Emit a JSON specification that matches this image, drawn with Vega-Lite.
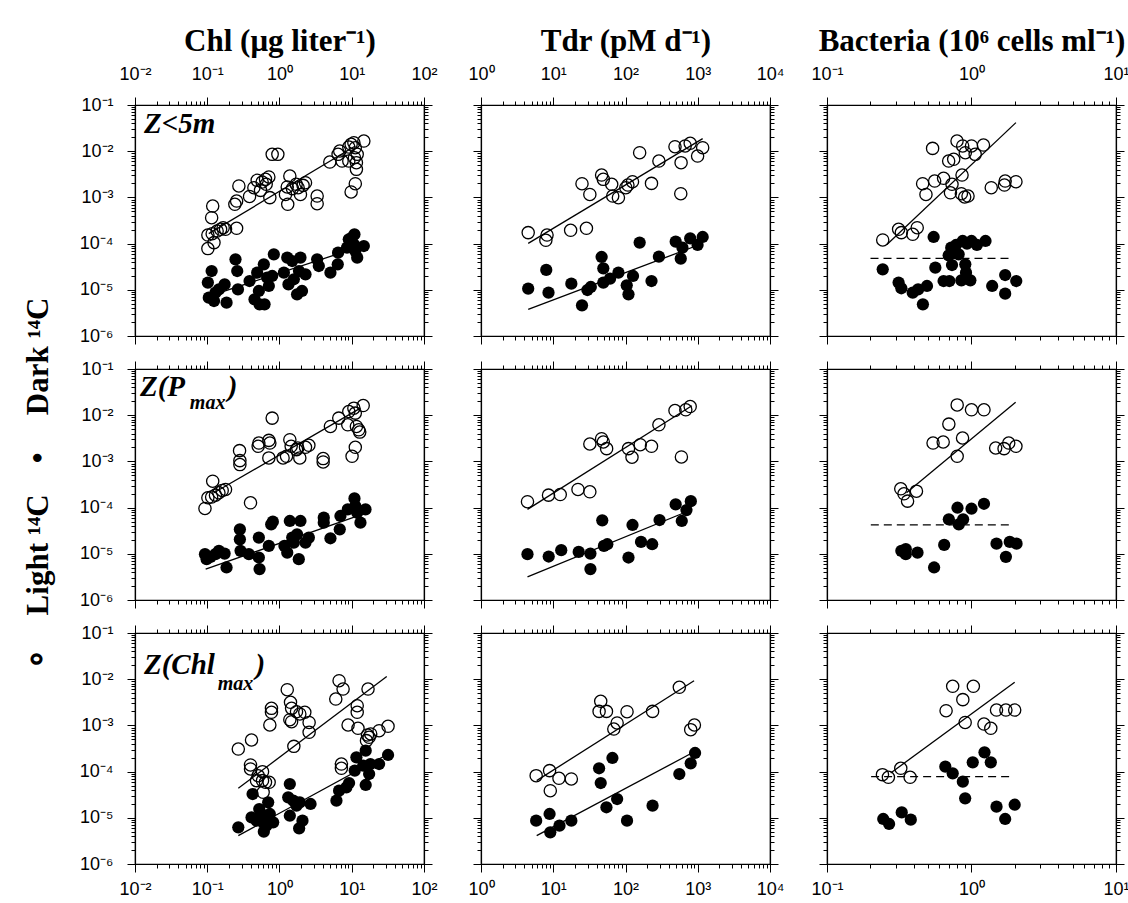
{
"$schema":"https://vega.github.io/schema/vega-lite/v6.json",
"background":"white",
"padding":{"left":21,"top":24,"right":5,"bottom":5},
"datasets":{
"pts":[
{"p":"11","t":"L","x":0.102,"y":7.8e-5},{"p":"11","t":"L","x":0.102,"y":1.53e-4},{"p":"11","t":"L","x":0.117,"y":1.64e-4},{"p":"11","t":"L","x":0.124,"y":1.05e-4},{"p":"11","t":"L","x":0.137,"y":1.87e-4},{"p":"11","t":"L","x":0.153,"y":2.04e-4},{"p":"11","t":"L","x":0.166,"y":2.21e-4},{"p":"11","t":"L","x":0.179,"y":2.04e-4},{"p":"11","t":"L","x":0.255,"y":2.14e-4},{"p":"11","t":"L","x":0.119,"y":6.5e-4},{"p":"11","t":"L","x":0.115,"y":3.64e-4},{"p":"11","t":"L","x":0.241,"y":7.08e-4},{"p":"11","t":"L","x":0.255,"y":8.35e-4},{"p":"11","t":"L","x":0.274,"y":1.77e-3},{"p":"11","t":"L","x":0.385,"y":1.05e-3},{"p":"11","t":"L","x":0.442,"y":1.62e-3},{"p":"11","t":"L","x":0.491,"y":2.34e-3},{"p":"11","t":"L","x":0.546,"y":1.42e-3},{"p":"11","t":"L","x":0.575,"y":2.15e-3},{"p":"11","t":"L","x":0.64,"y":2.46e-3},{"p":"11","t":"L","x":0.712,"y":2.77e-3},{"p":"11","t":"L","x":0.735,"y":9.9e-4},{"p":"11","t":"L","x":0.654,"y":1.92e-3},{"p":"11","t":"L","x":0.792,"y":8.55e-3},{"p":"11","t":"L","x":0.949,"y":8.55e-3},{"p":"11","t":"L","x":1.21,"y":1.16e-3},{"p":"11","t":"L","x":1.28,"y":1.68e-3},{"p":"11","t":"L","x":1.3,"y":7.08e-4},{"p":"11","t":"L","x":1.39,"y":2.9e-3},{"p":"11","t":"L","x":1.51,"y":1.55e-3},{"p":"11","t":"L","x":1.7,"y":1.92e-3},{"p":"11","t":"L","x":1.81,"y":1.62e-3},{"p":"11","t":"L","x":1.95,"y":1.16e-3},{"p":"11","t":"L","x":2.12,"y":1.82e-3},{"p":"11","t":"L","x":2.29,"y":2.08e-3},{"p":"11","t":"L","x":3.32,"y":1.07e-3},{"p":"11","t":"L","x":3.32,"y":7.3e-4},{"p":"11","t":"L","x":4.97,"y":5.83e-3},{"p":"11","t":"L","x":6.47,"y":8.55e-3},{"p":"11","t":"L","x":6.82,"y":1.01e-2},{"p":"11","t":"L","x":7.35,"y":6.13e-3},{"p":"11","t":"L","x":9.1,"y":1.23e-2},{"p":"11","t":"L","x":9.8,"y":1.41e-2},{"p":"11","t":"L","x":10.7,"y":1.53e-2},{"p":"11","t":"L","x":11.2,"y":1.19e-2},{"p":"11","t":"L","x":11.9,"y":8.55e-3},{"p":"11","t":"L","x":10.9,"y":7.24e-3},{"p":"11","t":"L","x":11.6,"y":5.65e-3},{"p":"11","t":"L","x":11.6,"y":4.05e-3},{"p":"11","t":"L","x":11.2,"y":1.98e-3},{"p":"11","t":"L","x":9.8,"y":1.31e-3},{"p":"11","t":"L","x":9.1,"y":6.13e-3},{"p":"11","t":"L","x":14.7,"y":1.66e-2},
{"p":"11","t":"D","x":0.102,"y":1.43e-5},{"p":"11","t":"D","x":0.115,"y":2.55e-5},{"p":"11","t":"D","x":0.105,"y":6.76e-6},{"p":"11","t":"D","x":0.124,"y":5.72e-6},{"p":"11","t":"D","x":0.13,"y":8.67e-6},{"p":"11","t":"D","x":0.145,"y":1.02e-5},{"p":"11","t":"D","x":0.174,"y":1.31e-5},{"p":"11","t":"D","x":0.185,"y":5.27e-6},{"p":"11","t":"D","x":0.246,"y":4.56e-5},{"p":"11","t":"D","x":0.26,"y":2.55e-5},{"p":"11","t":"D","x":0.266,"y":1.02e-5},{"p":"11","t":"D","x":0.385,"y":1.55e-5},{"p":"11","t":"D","x":0.451,"y":6.22e-6},{"p":"11","t":"D","x":0.491,"y":2.35e-5},{"p":"11","t":"D","x":0.518,"y":9.42e-6},{"p":"11","t":"D","x":0.53,"y":4.85e-6},{"p":"11","t":"D","x":0.621,"y":4.85e-6},{"p":"11","t":"D","x":0.607,"y":3.56e-5},{"p":"11","t":"D","x":0.675,"y":1.83e-5},{"p":"11","t":"D","x":0.712,"y":1.21e-5},{"p":"11","t":"D","x":0.792,"y":1.99e-5},{"p":"11","t":"D","x":0.835,"y":5.86e-5},{"p":"11","t":"D","x":1.15,"y":2.35e-5},{"p":"11","t":"D","x":1.28,"y":4.97e-5},{"p":"11","t":"D","x":1.33,"y":1.31e-5},{"p":"11","t":"D","x":1.5,"y":4.2e-5},{"p":"11","t":"D","x":1.58,"y":1.69e-5},{"p":"11","t":"D","x":1.75,"y":7.97e-6},{"p":"11","t":"D","x":1.86,"y":2.55e-5},{"p":"11","t":"D","x":1.95,"y":4.97e-5},{"p":"11","t":"D","x":2.05,"y":9.42e-6},{"p":"11","t":"D","x":2.29,"y":2.16e-5},{"p":"11","t":"D","x":3.32,"y":4.56e-5},{"p":"11","t":"D","x":3.5,"y":3.27e-5},{"p":"11","t":"D","x":5.07,"y":2.35e-5},{"p":"11","t":"D","x":6.47,"y":6.37e-5},{"p":"11","t":"D","x":6.4,"y":3.56e-5},{"p":"11","t":"D","x":9.1,"y":1.24e-4},{"p":"11","t":"D","x":10.0,"y":1.34e-4},{"p":"11","t":"D","x":10.9,"y":1.59e-4},{"p":"11","t":"D","x":10.7,"y":9.6e-5},{"p":"11","t":"D","x":11.2,"y":6.9e-5},{"p":"11","t":"D","x":11.9,"y":4.97e-5},{"p":"11","t":"D","x":14.7,"y":8.87e-5},{"p":"11","t":"D","x":8.6,"y":8.17e-5},
{"p":"12","t":"L","x":4.5,"y":1.73e-4},{"p":"12","t":"L","x":8.2,"y":1.53e-4},{"p":"12","t":"L","x":7.9,"y":1.18e-4},{"p":"12","t":"L","x":17.4,"y":1.94e-4},{"p":"12","t":"L","x":28.8,"y":2.14e-4},{"p":"12","t":"L","x":25.0,"y":1.98e-3},{"p":"12","t":"L","x":32.1,"y":1.16e-3},{"p":"12","t":"L","x":46.7,"y":3.05e-3},{"p":"12","t":"L","x":49.3,"y":2.46e-3},{"p":"12","t":"L","x":64.4,"y":1.92e-3},{"p":"12","t":"L","x":66.5,"y":1.07e-3},{"p":"12","t":"L","x":79.8,"y":9.86e-4},{"p":"12","t":"L","x":101,"y":1.62e-3},{"p":"12","t":"L","x":108,"y":1.85e-3},{"p":"12","t":"L","x":125,"y":2.19e-3},{"p":"12","t":"L","x":157,"y":9.29e-3},{"p":"12","t":"L","x":229,"y":2.01e-3},{"p":"12","t":"L","x":290,"y":6.13e-3},{"p":"12","t":"L","x":484,"y":1.25e-2},{"p":"12","t":"L","x":588,"y":5.65e-3},{"p":"12","t":"L","x":582,"y":1.2e-3},{"p":"12","t":"L","x":669,"y":1.3e-2},{"p":"12","t":"L","x":786,"y":1.48e-2},{"p":"12","t":"L","x":995,"y":7.87e-3},{"p":"12","t":"L","x":1170,"y":1.19e-2},
{"p":"12","t":"D","x":4.5,"y":1.06e-5},{"p":"12","t":"D","x":8.0,"y":2.69e-5},{"p":"12","t":"D","x":8.6,"y":8.67e-6},{"p":"12","t":"D","x":17.8,"y":1.36e-5},{"p":"12","t":"D","x":25.0,"y":4.61e-6},{"p":"12","t":"D","x":29.7,"y":9.9e-6},{"p":"12","t":"D","x":33.1,"y":1.15e-5},{"p":"12","t":"D","x":46.7,"y":5.13e-5},{"p":"12","t":"D","x":49.3,"y":2.92e-5},{"p":"12","t":"D","x":49.3,"y":1.43e-5},{"p":"12","t":"D","x":61.1,"y":1.74e-5},{"p":"12","t":"D","x":79.8,"y":2.35e-5},{"p":"12","t":"D","x":104,"y":1.25e-5},{"p":"12","t":"D","x":110,"y":7.97e-6},{"p":"12","t":"D","x":127,"y":1.99e-5},{"p":"12","t":"D","x":157,"y":1.05e-4},{"p":"12","t":"D","x":229,"y":1.55e-5},{"p":"12","t":"D","x":290,"y":5.21e-5},{"p":"12","t":"D","x":495,"y":1.1e-4},{"p":"12","t":"D","x":582,"y":4.72e-5},{"p":"12","t":"D","x":614,"y":8.17e-5},{"p":"12","t":"D","x":786,"y":1.3e-4},{"p":"12","t":"D","x":995,"y":9.33e-5},{"p":"12","t":"D","x":1170,"y":1.39e-4},
{"p":"13","t":"L","x":0.243,"y":1.2e-4},{"p":"13","t":"L","x":0.313,"y":2.04e-4},{"p":"13","t":"L","x":0.327,"y":1.73e-4},{"p":"13","t":"L","x":0.392,"y":1.59e-4},{"p":"13","t":"L","x":0.421,"y":2.21e-4},{"p":"13","t":"L","x":0.459,"y":1.98e-3},{"p":"13","t":"L","x":0.484,"y":1.16e-3},{"p":"13","t":"L","x":0.538,"y":1.15e-2},{"p":"13","t":"L","x":0.556,"y":2.26e-3},{"p":"13","t":"L","x":0.641,"y":2.59e-3},{"p":"13","t":"L","x":0.695,"y":6.13e-3},{"p":"13","t":"L","x":0.753,"y":6.67e-3},{"p":"13","t":"L","x":0.715,"y":1.26e-3},{"p":"13","t":"L","x":0.733,"y":1.92e-3},{"p":"13","t":"L","x":0.794,"y":1.66e-2},{"p":"13","t":"L","x":0.86,"y":3.05e-3},{"p":"13","t":"L","x":0.851,"y":1.2e-3},{"p":"13","t":"L","x":0.897,"y":1.02e-3},{"p":"13","t":"L","x":0.946,"y":1.07e-3},{"p":"13","t":"L","x":0.869,"y":1.3e-2},{"p":"13","t":"L","x":0.906,"y":9.29e-3},{"p":"13","t":"L","x":1.0,"y":1.3e-2},{"p":"13","t":"L","x":1.06,"y":8.55e-3},{"p":"13","t":"L","x":1.21,"y":1.36e-2},{"p":"13","t":"L","x":1.37,"y":1.62e-3},{"p":"13","t":"L","x":1.69,"y":1.85e-3},{"p":"13","t":"L","x":1.71,"y":2.26e-3},{"p":"13","t":"L","x":2.03,"y":2.19e-3},
{"p":"13","t":"D","x":0.243,"y":2.77e-5},{"p":"13","t":"D","x":0.313,"y":1.43e-5},{"p":"13","t":"D","x":0.327,"y":1.08e-5},{"p":"13","t":"D","x":0.392,"y":8.67e-6},{"p":"13","t":"D","x":0.427,"y":1.02e-5},{"p":"13","t":"D","x":0.492,"y":1.21e-5},{"p":"13","t":"D","x":0.461,"y":4.85e-6},{"p":"13","t":"D","x":0.547,"y":1.39e-4},{"p":"13","t":"D","x":0.562,"y":3.01e-5},{"p":"13","t":"D","x":0.641,"y":1.55e-5},{"p":"13","t":"D","x":0.703,"y":1.55e-5},{"p":"13","t":"D","x":0.695,"y":5.57e-5},{"p":"13","t":"D","x":0.724,"y":8.17e-5},{"p":"13","t":"D","x":0.733,"y":3.44e-5},{"p":"13","t":"D","x":0.782,"y":9.33e-5},{"p":"13","t":"D","x":0.815,"y":5.86e-5},{"p":"13","t":"D","x":0.851,"y":1.6e-5},{"p":"13","t":"D","x":0.869,"y":1.14e-4},{"p":"13","t":"D","x":0.906,"y":3.56e-5},{"p":"13","t":"D","x":0.916,"y":2.35e-5},{"p":"13","t":"D","x":0.982,"y":1.6e-5},{"p":"13","t":"D","x":0.931,"y":9.97e-5},{"p":"13","t":"D","x":1.0,"y":1.14e-4},{"p":"13","t":"D","x":1.09,"y":9.33e-5},{"p":"13","t":"D","x":1.25,"y":1.14e-4},{"p":"13","t":"D","x":1.39,"y":1.21e-5},{"p":"13","t":"D","x":1.71,"y":2.09e-5},{"p":"13","t":"D","x":1.71,"y":8.24e-6},{"p":"13","t":"D","x":2.04,"y":1.55e-5},
{"p":"21","t":"L","x":0.093,"y":9.6e-5},{"p":"21","t":"L","x":0.102,"y":1.63e-4},{"p":"21","t":"L","x":0.115,"y":1.69e-4},{"p":"21","t":"L","x":0.119,"y":3.73e-4},{"p":"21","t":"L","x":0.13,"y":1.86e-4},{"p":"21","t":"L","x":0.145,"y":2.09e-4},{"p":"21","t":"L","x":0.161,"y":2.35e-4},{"p":"21","t":"L","x":0.179,"y":2.47e-4},{"p":"21","t":"L","x":0.28,"y":1.71e-3},{"p":"21","t":"L","x":0.283,"y":1.04e-3},{"p":"21","t":"L","x":0.283,"y":8.53e-4},{"p":"21","t":"L","x":0.397,"y":1.27e-4},{"p":"21","t":"L","x":0.507,"y":2.12e-3},{"p":"21","t":"L","x":0.518,"y":2.5e-3},{"p":"21","t":"L","x":0.712,"y":2.85e-3},{"p":"21","t":"L","x":0.735,"y":2.5e-3},{"p":"21","t":"L","x":0.712,"y":1.19e-3},{"p":"21","t":"L","x":0.792,"y":8.65e-3},{"p":"21","t":"L","x":1.12,"y":1.19e-3},{"p":"21","t":"L","x":1.25,"y":1.29e-3},{"p":"21","t":"L","x":1.39,"y":2.95e-3},{"p":"21","t":"L","x":1.45,"y":2.12e-3},{"p":"21","t":"L","x":1.72,"y":1.8e-3},{"p":"21","t":"L","x":1.79,"y":1.95e-3},{"p":"21","t":"L","x":1.91,"y":1.19e-3},{"p":"21","t":"L","x":2.29,"y":2.02e-3},{"p":"21","t":"L","x":2.55,"y":2.23e-3},{"p":"21","t":"L","x":4.02,"y":1.15e-3},{"p":"21","t":"L","x":4.02,"y":9.73e-4},{"p":"21","t":"L","x":5.07,"y":5.71e-3},{"p":"21","t":"L","x":6.61,"y":8.65e-3},{"p":"21","t":"L","x":8.81,"y":6.21e-3},{"p":"21","t":"L","x":9.1,"y":1.2e-2},{"p":"21","t":"L","x":10.7,"y":1.42e-2},{"p":"21","t":"L","x":11.2,"y":1.11e-2},{"p":"21","t":"L","x":11.6,"y":5.71e-3},{"p":"21","t":"L","x":12.5,"y":4.84e-3},{"p":"21","t":"L","x":12.9,"y":4.31e-3},{"p":"21","t":"L","x":11.2,"y":2.02e-3},{"p":"21","t":"L","x":10.1,"y":1.29e-3},{"p":"21","t":"L","x":14.4,"y":1.62e-2},
{"p":"21","t":"D","x":0.093,"y":9.8e-6},{"p":"21","t":"D","x":0.098,"y":7.66e-6},{"p":"21","t":"D","x":0.111,"y":8.6e-6},{"p":"21","t":"D","x":0.13,"y":9.8e-6},{"p":"21","t":"D","x":0.145,"y":1.16e-5},{"p":"21","t":"D","x":0.174,"y":1.01e-5},{"p":"21","t":"D","x":0.185,"y":5.06e-6},{"p":"21","t":"D","x":0.283,"y":3.39e-5},{"p":"21","t":"D","x":0.283,"y":2.06e-5},{"p":"21","t":"D","x":0.289,"y":1.16e-5},{"p":"21","t":"D","x":0.377,"y":9.8e-6},{"p":"21","t":"D","x":0.518,"y":2.24e-5},{"p":"21","t":"D","x":0.518,"y":8.3e-6},{"p":"21","t":"D","x":0.53,"y":4.66e-6},{"p":"21","t":"D","x":0.712,"y":1.48e-5},{"p":"21","t":"D","x":0.767,"y":4.35e-5},{"p":"21","t":"D","x":0.809,"y":4.96e-5},{"p":"21","t":"D","x":1.17,"y":1.48e-5},{"p":"21","t":"D","x":1.28,"y":1.06e-5},{"p":"21","t":"D","x":1.39,"y":5.13e-5},{"p":"21","t":"D","x":1.5,"y":2.24e-5},{"p":"21","t":"D","x":1.58,"y":1.75e-5},{"p":"21","t":"D","x":1.75,"y":2.64e-5},{"p":"21","t":"D","x":1.85,"y":7.66e-6},{"p":"21","t":"D","x":1.95,"y":5.13e-5},{"p":"21","t":"D","x":2.29,"y":1.75e-5},{"p":"21","t":"D","x":2.55,"y":2.24e-5},{"p":"21","t":"D","x":4.1,"y":6.05e-5},{"p":"21","t":"D","x":4.1,"y":4.72e-5},{"p":"21","t":"D","x":5.07,"y":2.17e-5},{"p":"21","t":"D","x":6.82,"y":3.39e-5},{"p":"21","t":"D","x":6.97,"y":6.58e-5},{"p":"21","t":"D","x":8.81,"y":9.14e-5},{"p":"21","t":"D","x":10.9,"y":1.58e-4},{"p":"21","t":"D","x":11.2,"y":1.08e-4},{"p":"21","t":"D","x":11.9,"y":7.74e-5},{"p":"21","t":"D","x":13.2,"y":4.72e-5},{"p":"21","t":"D","x":15.5,"y":9.14e-5},
{"p":"22","t":"L","x":4.4,"y":1.34e-4},{"p":"22","t":"L","x":8.6,"y":1.86e-4},{"p":"22","t":"L","x":12.5,"y":1.92e-4},{"p":"22","t":"L","x":22,"y":2.47e-4},{"p":"22","t":"L","x":32.1,"y":2.2e-4},{"p":"22","t":"L","x":32.1,"y":2.38e-3},{"p":"22","t":"L","x":46.7,"y":3.1e-3},{"p":"22","t":"L","x":49.3,"y":2.63e-3},{"p":"22","t":"L","x":54.8,"y":1.89e-3},{"p":"22","t":"L","x":110,"y":1.89e-3},{"p":"22","t":"L","x":123,"y":1.23e-3},{"p":"22","t":"L","x":160,"y":2.3e-3},{"p":"22","t":"L","x":229,"y":2.12e-3},{"p":"22","t":"L","x":290,"y":6.21e-3},{"p":"22","t":"L","x":484,"y":1.26e-2},{"p":"22","t":"L","x":594,"y":1.25e-3},{"p":"22","t":"L","x":683,"y":1.31e-2},{"p":"22","t":"L","x":786,"y":1.54e-2},
{"p":"22","t":"D","x":4.4,"y":9.8e-6},{"p":"22","t":"D","x":8.65,"y":8.73e-6},{"p":"22","t":"D","x":12.9,"y":1.2e-5},{"p":"22","t":"D","x":22.5,"y":1.1e-5},{"p":"22","t":"D","x":32.7,"y":1.01e-5},{"p":"22","t":"D","x":32.7,"y":4.66e-6},{"p":"22","t":"D","x":47.7,"y":5.3e-5},{"p":"22","t":"D","x":50.3,"y":1.48e-5},{"p":"22","t":"D","x":56,"y":1.61e-5},{"p":"22","t":"D","x":110,"y":8.3e-6},{"p":"22","t":"D","x":125,"y":4.21e-5},{"p":"22","t":"D","x":164,"y":1.81e-5},{"p":"22","t":"D","x":234,"y":1.61e-5},{"p":"22","t":"D","x":296,"y":5.38e-5},{"p":"22","t":"D","x":495,"y":1.17e-4},{"p":"22","t":"D","x":601,"y":5.13e-5},{"p":"22","t":"D","x":698,"y":8.85e-5},{"p":"22","t":"D","x":802,"y":1.38e-4},
{"p":"23","t":"L","x":0.324,"y":2.55e-4},{"p":"23","t":"L","x":0.341,"y":1.99e-4},{"p":"23","t":"L","x":0.361,"y":1.38e-4},{"p":"23","t":"L","x":0.416,"y":2.27e-4},{"p":"23","t":"L","x":0.542,"y":2.5e-3},{"p":"23","t":"L","x":0.637,"y":2.63e-3},{"p":"23","t":"L","x":0.697,"y":6.41e-3},{"p":"23","t":"L","x":0.796,"y":1.67e-2},{"p":"23","t":"L","x":0.867,"y":3.21e-3},{"p":"23","t":"L","x":0.796,"y":1.29e-3},{"p":"23","t":"L","x":1.0,"y":1.31e-2},{"p":"23","t":"L","x":1.22,"y":1.31e-2},{"p":"23","t":"L","x":1.47,"y":1.95e-3},{"p":"23","t":"L","x":1.68,"y":1.89e-3},{"p":"23","t":"L","x":1.81,"y":2.5e-3},{"p":"23","t":"L","x":2.03,"y":2.12e-3},
{"p":"23","t":"D","x":0.327,"y":1.16e-5},{"p":"23","t":"D","x":0.351,"y":1.26e-5},{"p":"23","t":"D","x":0.351,"y":9.8e-6},{"p":"23","t":"D","x":0.423,"y":1.06e-5},{"p":"23","t":"D","x":0.551,"y":5.06e-6},{"p":"23","t":"D","x":0.647,"y":1.56e-5},{"p":"23","t":"D","x":0.697,"y":5.57e-5},{"p":"23","t":"D","x":0.8,"y":9.93e-5},{"p":"23","t":"D","x":0.817,"y":4.35e-5},{"p":"23","t":"D","x":0.875,"y":5.57e-5},{"p":"23","t":"D","x":1.0,"y":9.46e-5},{"p":"23","t":"D","x":1.22,"y":1.21e-4},{"p":"23","t":"D","x":1.49,"y":1.66e-5},{"p":"23","t":"D","x":1.73,"y":8.6e-6},{"p":"23","t":"D","x":1.84,"y":1.81e-5},{"p":"23","t":"D","x":2.05,"y":1.66e-5},
{"p":"31","t":"L","x":0.269,"y":3.08e-4},{"p":"31","t":"L","x":0.41,"y":4.83e-4},{"p":"31","t":"L","x":0.397,"y":1.39e-4},{"p":"31","t":"L","x":0.397,"y":1.14e-4},{"p":"31","t":"L","x":0.481,"y":6.37e-5},{"p":"31","t":"L","x":0.507,"y":8.17e-5},{"p":"31","t":"L","x":0.582,"y":9.97e-5},{"p":"31","t":"L","x":0.582,"y":6.37e-5},{"p":"31","t":"L","x":0.594,"y":3.56e-5},{"p":"31","t":"L","x":0.64,"y":5.86e-5},{"p":"31","t":"L","x":0.719,"y":5.86e-5},{"p":"31","t":"L","x":0.735,"y":1.02e-3},{"p":"31","t":"L","x":0.774,"y":1.92e-3},{"p":"31","t":"L","x":0.774,"y":2.34e-3},{"p":"31","t":"L","x":1.28,"y":5.93e-3},{"p":"31","t":"L","x":1.42,"y":3.16e-3},{"p":"31","t":"L","x":1.47,"y":2.34e-3},{"p":"31","t":"L","x":1.39,"y":1.33e-3},{"p":"31","t":"L","x":1.47,"y":1.2e-3},{"p":"31","t":"L","x":1.72,"y":1.98e-3},{"p":"31","t":"L","x":1.91,"y":1.77e-3},{"p":"31","t":"L","x":2.24,"y":1.92e-3},{"p":"31","t":"L","x":2.57,"y":1.16e-3},{"p":"31","t":"L","x":2.57,"y":7.08e-4},{"p":"31","t":"L","x":1.58,"y":3.52e-4},{"p":"31","t":"L","x":6.68,"y":9.29e-3},{"p":"31","t":"L","x":7.59,"y":6.13e-3},{"p":"31","t":"L","x":6.01,"y":3.72e-3},{"p":"31","t":"L","x":7.19,"y":1.46e-4},{"p":"31","t":"L","x":7.19,"y":1.18e-4},{"p":"31","t":"L","x":8.9,"y":1.02e-3},{"p":"31","t":"L","x":11.9,"y":2.67e-3},{"p":"31","t":"L","x":11.9,"y":1.92e-3},{"p":"31","t":"L","x":12.2,"y":8.65e-4},{"p":"31","t":"L","x":16.8,"y":6.13e-3},{"p":"31","t":"L","x":16.5,"y":6.2e-4},{"p":"31","t":"L","x":17.4,"y":5.52e-4},{"p":"31","t":"L","x":16.0,"y":4.68e-4},{"p":"31","t":"L","x":18.3,"y":6.52e-4},{"p":"31","t":"L","x":23.9,"y":7.69e-4},{"p":"31","t":"L","x":31.8,"y":9.55e-4},
{"p":"31","t":"D","x":0.269,"y":6.22e-6},{"p":"31","t":"D","x":0.424,"y":3.27e-5},{"p":"31","t":"D","x":0.41,"y":1.02e-5},{"p":"31","t":"D","x":0.524,"y":1.55e-5},{"p":"31","t":"D","x":0.481,"y":8.67e-6},{"p":"31","t":"D","x":0.564,"y":1.21e-5},{"p":"31","t":"D","x":0.594,"y":7.97e-6},{"p":"31","t":"D","x":0.607,"y":5.01e-6},{"p":"31","t":"D","x":0.66,"y":6.76e-6},{"p":"31","t":"D","x":0.697,"y":2.16e-5},{"p":"31","t":"D","x":0.735,"y":1.21e-5},{"p":"31","t":"D","x":0.817,"y":7.97e-6},{"p":"31","t":"D","x":1.39,"y":5.39e-5},{"p":"31","t":"D","x":1.32,"y":2.77e-5},{"p":"31","t":"D","x":1.39,"y":1.11e-5},{"p":"31","t":"D","x":1.55,"y":2.35e-5},{"p":"31","t":"D","x":1.72,"y":1.83e-5},{"p":"31","t":"D","x":1.91,"y":2.16e-5},{"p":"31","t":"D","x":1.87,"y":5.92e-6},{"p":"31","t":"D","x":2.08,"y":8.67e-6},{"p":"31","t":"D","x":2.69,"y":1.99e-5},{"p":"31","t":"D","x":6.14,"y":2.35e-5},{"p":"31","t":"D","x":6.68,"y":3.86e-5},{"p":"31","t":"D","x":8.43,"y":4.56e-5},{"p":"31","t":"D","x":9.18,"y":5.66e-5},{"p":"31","t":"D","x":11.6,"y":2.04e-4},{"p":"31","t":"D","x":11.0,"y":1.05e-4},{"p":"31","t":"D","x":14.4,"y":1.34e-4},{"p":"31","t":"D","x":15.6,"y":2.84e-4},{"p":"31","t":"D","x":17.4,"y":8.87e-5},{"p":"31","t":"D","x":18.1,"y":1.46e-4},{"p":"31","t":"D","x":15.6,"y":5.13e-5},{"p":"31","t":"D","x":23.9,"y":1.46e-4},{"p":"31","t":"D","x":31.8,"y":2.29e-4},
{"p":"32","t":"L","x":5.8,"y":8.17e-5},{"p":"32","t":"L","x":8.9,"y":1.05e-4},{"p":"32","t":"L","x":9.1,"y":3.86e-5},{"p":"32","t":"L","x":12.0,"y":7.15e-5},{"p":"32","t":"L","x":17.8,"y":6.92e-5},{"p":"32","t":"L","x":45.4,"y":3.32e-3},{"p":"32","t":"L","x":43.1,"y":2.01e-3},{"p":"32","t":"L","x":54.5,"y":2.01e-3},{"p":"32","t":"L","x":68.9,"y":8.35e-4},{"p":"32","t":"L","x":76.6,"y":1.13e-3},{"p":"32","t":"L","x":105,"y":1.98e-3},{"p":"32","t":"L","x":237,"y":2.01e-3},{"p":"32","t":"L","x":556,"y":6.67e-3},{"p":"32","t":"L","x":799,"y":8.09e-4},{"p":"32","t":"L","x":899,"y":1.02e-3},
{"p":"32","t":"D","x":5.8,"y":8.67e-6},{"p":"32","t":"D","x":8.9,"y":1.21e-5},{"p":"32","t":"D","x":9.1,"y":4.85e-6},{"p":"32","t":"D","x":12.2,"y":6.76e-6},{"p":"32","t":"D","x":17.8,"y":8.67e-6},{"p":"32","t":"D","x":43.1,"y":1.18e-4},{"p":"32","t":"D","x":45.4,"y":5.66e-5},{"p":"32","t":"D","x":54.5,"y":1.69e-5},{"p":"32","t":"D","x":65.9,"y":1.97e-4},{"p":"32","t":"D","x":76.6,"y":2.55e-5},{"p":"32","t":"D","x":105,"y":8.67e-6},{"p":"32","t":"D","x":237,"y":1.83e-5},{"p":"32","t":"D","x":556,"y":8.87e-5},{"p":"32","t":"D","x":799,"y":1.51e-4},{"p":"32","t":"D","x":918,"y":2.53e-4},
{"p":"33","t":"L","x":0.242,"y":8.59e-5},{"p":"33","t":"L","x":0.266,"y":7.52e-5},{"p":"33","t":"L","x":0.324,"y":1.18e-4},{"p":"33","t":"L","x":0.376,"y":7.52e-5},{"p":"33","t":"L","x":0.667,"y":2.08e-3},{"p":"33","t":"L","x":0.741,"y":7.02e-3},{"p":"33","t":"L","x":0.871,"y":3.61e-3},{"p":"33","t":"L","x":0.904,"y":1.16e-3},{"p":"33","t":"L","x":1.03,"y":7.02e-3},{"p":"33","t":"L","x":1.22,"y":1.07e-3},{"p":"33","t":"L","x":1.36,"y":8.65e-4},{"p":"33","t":"L","x":1.49,"y":2.15e-3},{"p":"33","t":"L","x":1.73,"y":2.15e-3},{"p":"33","t":"L","x":1.99,"y":2.15e-3},
{"p":"33","t":"D","x":0.245,"y":9.42e-6},{"p":"33","t":"D","x":0.269,"y":7.35e-6},{"p":"33","t":"D","x":0.329,"y":1.31e-5},{"p":"33","t":"D","x":0.38,"y":9.12e-6},{"p":"33","t":"D","x":0.659,"y":1.28e-4},{"p":"33","t":"D","x":0.741,"y":9.16e-5},{"p":"33","t":"D","x":0.871,"y":6.05e-5},{"p":"33","t":"D","x":0.904,"y":2.64e-5},{"p":"33","t":"D","x":1.02,"y":1.59e-4},{"p":"33","t":"D","x":1.23,"y":2.61e-4},{"p":"33","t":"D","x":1.36,"y":1.59e-4},{"p":"33","t":"D","x":1.49,"y":1.74e-5},{"p":"33","t":"D","x":1.71,"y":9.42e-6},{"p":"33","t":"D","x":1.99,"y":1.92e-5}
],
"lns":[
{"p":"11","s":"L","x":0.105,"y":1.64e-4},{"p":"11","s":"L","x":11.2,"y":1.3e-2},{"p":"11","s":"D","x":0.117,"y":7.7e-6},{"p":"11","s":"D","x":11.9,"y":8.17e-5},
{"p":"12","s":"L","x":4.5,"y":1.01e-4},{"p":"12","s":"L","x":1170,"y":1.87e-2},{"p":"12","s":"D","x":4.5,"y":3.77e-6},{"p":"12","s":"D","x":942,"y":8.87e-5},
{"p":"13","s":"L","x":0.26,"y":9.6e-5},{"p":"13","s":"L","x":2.03,"y":4.15e-2},{"p":"13","s":"D","x":0.2,"y":4.8e-5},{"p":"13","s":"D","x":1.86,"y":4.8e-5},
{"p":"21","s":"L","x":0.124,"y":2.09e-4},{"p":"21","s":"L","x":13.2,"y":1.42e-2},{"p":"21","s":"D","x":0.095,"y":4.66e-6},{"p":"21","s":"D","x":13.9,"y":7.13e-5},
{"p":"22","s":"L","x":4.4,"y":9.14e-5},{"p":"22","s":"L","x":828,"y":1.6e-2},{"p":"22","s":"D","x":4.4,"y":3.18e-6},{"p":"22","s":"D","x":648,"y":7.74e-5},
{"p":"23","s":"L","x":0.355,"y":2.09e-4},{"p":"23","s":"L","x":2.02,"y":1.91e-2},{"p":"23","s":"D","x":0.201,"y":4.21e-5},{"p":"23","s":"D","x":1.89,"y":4.21e-5},
{"p":"31","s":"L","x":0.269,"y":4.35e-5},{"p":"31","s":"L","x":30.5,"y":1.15e-2},{"p":"31","s":"D","x":0.269,"y":4.1e-6},{"p":"31","s":"D","x":30.1,"y":2.29e-4},
{"p":"32","s":"L","x":5.9,"y":6.37e-5},{"p":"32","s":"L","x":889,"y":9.29e-3},{"p":"32","s":"D","x":5.9,"y":4.1e-6},{"p":"32","s":"D","x":783,"y":2.4e-4},
{"p":"33","s":"L","x":0.276,"y":9.33e-5},{"p":"33","s":"L","x":1.99,"y":8.55e-3},{"p":"33","s":"D","x":0.202,"y":7.76e-5},{"p":"33","s":"D","x":1.87,"y":7.76e-5}
]
},
"columns":3,
"spacing":{"row":33,"column":57},
"bounds":"flush",
"concat":[
{"width":289,"height":231,"resolve":{"axis":{"x":"independent","y":"independent"}},"layer":[
 {"data":{"name":"lns"},"transform":[{"filter":"datum.p=='11'"}],"mark":{"type":"line","color":"black","strokeWidth":1.3},"encoding":{"x":{"field":"x","type":"quantitative","scale":{"type":"log","domain":[0.01,100]},"axis":null},"y":{"field":"y","type":"quantitative","scale":{"type":"log","domain":[1e-6,0.1]},"axis":null},"detail":{"field":"s"}}},
 {"data":{"name":"pts"},"transform":[{"filter":"datum.p=='11' && datum.t=='D'"}],"mark":{"type":"circle","size":150,"color":"black","opacity":1},"encoding":{"x":{"field":"x","type":"quantitative","scale":{"type":"log","domain":[0.01,100]},"axis":{"orient":"top","title":"Chl (μg liter⁻¹)","titleFont":"Liberation Serif","titleFontWeight":"bold","titleFontSize":31,"titlePadding":8,"values":[0.01,0.02,0.03,0.04,0.05,0.06,0.07,0.08,0.09,0.1,0.2,0.3,0.4,0.5,0.6,0.7,0.8,0.9,1,2,3,4,5,6,7,8,9,10,20,30,40,50,60,70,80,90,100],"labelExpr":"abs(log(datum.value)/LN10-round(log(datum.value)/LN10))<0.001 ? ['10⁻⁶','10⁻⁵','10⁻⁴','10⁻³','10⁻²','10⁻¹','10⁰','10¹','10²','10³','10⁴'][round(log(datum.value)/LN10)+6] : ''","tickSize":{"condition":{"test":"abs(log(datum.value)/LN10-round(log(datum.value)/LN10))<0.001","value":8},"value":4},"labelPadding":14,"labelOverlap":false,"labelBound":false,"labelFlush":false}},"y":{"field":"y","type":"quantitative","scale":{"type":"log","domain":[1e-6,0.1]},"axis":{"orient":"right","title":null,"labels":false,"values":[1e-6,2e-6,3e-6,4e-6,5e-6,6e-6,7e-6,8e-6,9e-6,1e-5,2e-5,3e-5,4e-5,5e-5,6e-5,7e-5,8e-5,9e-5,1e-4,2e-4,3e-4,4e-4,5e-4,6e-4,7e-4,8e-4,9e-4,0.001,0.002,0.003,0.004,0.005,0.006,0.007,0.008,0.009,0.01,0.02,0.03,0.04,0.05,0.06,0.07,0.08,0.09,0.1],"tickSize":{"condition":{"test":"abs(log(datum.value)/LN10-round(log(datum.value)/LN10))<0.001","value":8},"value":4}}}}},
 {"data":{"name":"pts"},"transform":[{"filter":"datum.p=='11' && datum.t=='L'"}],"mark":{"type":"point","shape":"circle","size":150,"strokeWidth":1.3,"color":"black","opacity":1,"filled":false},"encoding":{"x":{"field":"x","type":"quantitative","scale":{"type":"log","domain":[0.01,100]},"axis":{"orient":"bottom","title":null,"labels":false,"values":[0.01,0.02,0.03,0.04,0.05,0.06,0.07,0.08,0.09,0.1,0.2,0.3,0.4,0.5,0.6,0.7,0.8,0.9,1,2,3,4,5,6,7,8,9,10,20,30,40,50,60,70,80,90,100],"tickSize":{"condition":{"test":"abs(log(datum.value)/LN10-round(log(datum.value)/LN10))<0.001","value":8},"value":4}}},"y":{"field":"y","type":"quantitative","scale":{"type":"log","domain":[1e-6,0.1]},"axis":{"orient":"left","title":null,"values":[1e-6,2e-6,3e-6,4e-6,5e-6,6e-6,7e-6,8e-6,9e-6,1e-5,2e-5,3e-5,4e-5,5e-5,6e-5,7e-5,8e-5,9e-5,1e-4,2e-4,3e-4,4e-4,5e-4,6e-4,7e-4,8e-4,9e-4,0.001,0.002,0.003,0.004,0.005,0.006,0.007,0.008,0.009,0.01,0.02,0.03,0.04,0.05,0.06,0.07,0.08,0.09,0.1],"labelExpr":"abs(log(datum.value)/LN10-round(log(datum.value)/LN10))<0.001 ? ['10⁻⁶','10⁻⁵','10⁻⁴','10⁻³','10⁻²','10⁻¹','10⁰','10¹','10²','10³','10⁴'][round(log(datum.value)/LN10)+6] : ''","tickSize":{"condition":{"test":"abs(log(datum.value)/LN10-round(log(datum.value)/LN10))<0.001","value":8},"value":4},"labelPadding":14,"labelOverlap":false,"labelBound":false,"labelFlush":false}}}},
 {"data":{"values":[{}]},"mark":{"type":"text","text":"Z<5m","font":"Liberation Serif","fontStyle":"italic","fontWeight":"bold","fontSize":29,"align":"left","baseline":"alphabetic","color":"black"},"encoding":{"x":{"datum":0.0133,"type":"quantitative","axis":null},"y":{"datum":0.0248,"type":"quantitative","axis":null}}}
]},
{"width":289,"height":231,"resolve":{"axis":{"x":"independent","y":"independent"}},"layer":[
 {"data":{"name":"lns"},"transform":[{"filter":"datum.p=='12'"}],"mark":{"type":"line","color":"black","strokeWidth":1.3},"encoding":{"x":{"field":"x","type":"quantitative","scale":{"type":"log","domain":[1,10000]},"axis":null},"y":{"field":"y","type":"quantitative","scale":{"type":"log","domain":[1e-6,0.1]},"axis":null},"detail":{"field":"s"}}},
 {"data":{"name":"pts"},"transform":[{"filter":"datum.p=='12' && datum.t=='D'"}],"mark":{"type":"circle","size":150,"color":"black","opacity":1},"encoding":{"x":{"field":"x","type":"quantitative","scale":{"type":"log","domain":[1,10000]},"axis":{"orient":"top","title":"Tdr (pM d⁻¹)","titleFont":"Liberation Serif","titleFontWeight":"bold","titleFontSize":31,"titlePadding":8,"values":[1,2,3,4,5,6,7,8,9,10,20,30,40,50,60,70,80,90,100,200,300,400,500,600,700,800,900,1000,2000,3000,4000,5000,6000,7000,8000,9000,10000],"labelExpr":"abs(log(datum.value)/LN10-round(log(datum.value)/LN10))<0.001 ? ['10⁻⁶','10⁻⁵','10⁻⁴','10⁻³','10⁻²','10⁻¹','10⁰','10¹','10²','10³','10⁴'][round(log(datum.value)/LN10)+6] : ''","tickSize":{"condition":{"test":"abs(log(datum.value)/LN10-round(log(datum.value)/LN10))<0.001","value":8},"value":4},"labelPadding":14,"labelOverlap":false,"labelBound":false,"labelFlush":false}},"y":{"field":"y","type":"quantitative","scale":{"type":"log","domain":[1e-6,0.1]},"axis":{"orient":"right","title":null,"labels":false,"values":[1e-6,2e-6,3e-6,4e-6,5e-6,6e-6,7e-6,8e-6,9e-6,1e-5,2e-5,3e-5,4e-5,5e-5,6e-5,7e-5,8e-5,9e-5,1e-4,2e-4,3e-4,4e-4,5e-4,6e-4,7e-4,8e-4,9e-4,0.001,0.002,0.003,0.004,0.005,0.006,0.007,0.008,0.009,0.01,0.02,0.03,0.04,0.05,0.06,0.07,0.08,0.09,0.1],"tickSize":{"condition":{"test":"abs(log(datum.value)/LN10-round(log(datum.value)/LN10))<0.001","value":8},"value":4}}}}},
 {"data":{"name":"pts"},"transform":[{"filter":"datum.p=='12' && datum.t=='L'"}],"mark":{"type":"point","shape":"circle","size":150,"strokeWidth":1.3,"color":"black","opacity":1,"filled":false},"encoding":{"x":{"field":"x","type":"quantitative","scale":{"type":"log","domain":[1,10000]},"axis":{"orient":"bottom","title":null,"labels":false,"values":[1,2,3,4,5,6,7,8,9,10,20,30,40,50,60,70,80,90,100,200,300,400,500,600,700,800,900,1000,2000,3000,4000,5000,6000,7000,8000,9000,10000],"tickSize":{"condition":{"test":"abs(log(datum.value)/LN10-round(log(datum.value)/LN10))<0.001","value":8},"value":4}}},"y":{"field":"y","type":"quantitative","scale":{"type":"log","domain":[1e-6,0.1]},"axis":{"orient":"left","title":null,"labels":false,"values":[1e-6,2e-6,3e-6,4e-6,5e-6,6e-6,7e-6,8e-6,9e-6,1e-5,2e-5,3e-5,4e-5,5e-5,6e-5,7e-5,8e-5,9e-5,1e-4,2e-4,3e-4,4e-4,5e-4,6e-4,7e-4,8e-4,9e-4,0.001,0.002,0.003,0.004,0.005,0.006,0.007,0.008,0.009,0.01,0.02,0.03,0.04,0.05,0.06,0.07,0.08,0.09,0.1],"tickSize":{"condition":{"test":"abs(log(datum.value)/LN10-round(log(datum.value)/LN10))<0.001","value":8},"value":4}}}}}
]},
{"width":289,"height":231,"resolve":{"axis":{"x":"independent","y":"independent"}},"layer":[
 {"data":{"name":"lns"},"transform":[{"filter":"datum.p=='13' && datum.s=='L'"}],"mark":{"type":"line","color":"black","strokeWidth":1.3},"encoding":{"x":{"field":"x","type":"quantitative","scale":{"type":"log","domain":[0.1,10]},"axis":null},"y":{"field":"y","type":"quantitative","scale":{"type":"log","domain":[1e-6,0.1]},"axis":null}}},
 {"data":{"name":"lns"},"transform":[{"filter":"datum.p=='13' && datum.s=='D'"}],"mark":{"type":"line","color":"black","strokeWidth":1.3,"strokeDash":[8,5]},"encoding":{"x":{"field":"x","type":"quantitative","scale":{"type":"log","domain":[0.1,10]},"axis":null},"y":{"field":"y","type":"quantitative","scale":{"type":"log","domain":[1e-6,0.1]},"axis":null}}},
 {"data":{"name":"pts"},"transform":[{"filter":"datum.p=='13' && datum.t=='D'"}],"mark":{"type":"circle","size":150,"color":"black","opacity":1},"encoding":{"x":{"field":"x","type":"quantitative","scale":{"type":"log","domain":[0.1,10]},"axis":{"orient":"top","title":"Bacteria (10⁶ cells ml⁻¹)","titleFont":"Liberation Serif","titleFontWeight":"bold","titleFontSize":31,"titlePadding":8,"values":[0.1,0.2,0.3,0.4,0.5,0.6,0.7,0.8,0.9,1,2,3,4,5,6,7,8,9,10],"labelExpr":"abs(log(datum.value)/LN10-round(log(datum.value)/LN10))<0.001 ? ['10⁻⁶','10⁻⁵','10⁻⁴','10⁻³','10⁻²','10⁻¹','10⁰','10¹','10²','10³','10⁴'][round(log(datum.value)/LN10)+6] : ''","tickSize":{"condition":{"test":"abs(log(datum.value)/LN10-round(log(datum.value)/LN10))<0.001","value":8},"value":4},"labelPadding":14,"labelOverlap":false,"labelBound":false,"labelFlush":false}},"y":{"field":"y","type":"quantitative","scale":{"type":"log","domain":[1e-6,0.1]},"axis":{"orient":"right","title":null,"labels":false,"values":[1e-6,2e-6,3e-6,4e-6,5e-6,6e-6,7e-6,8e-6,9e-6,1e-5,2e-5,3e-5,4e-5,5e-5,6e-5,7e-5,8e-5,9e-5,1e-4,2e-4,3e-4,4e-4,5e-4,6e-4,7e-4,8e-4,9e-4,0.001,0.002,0.003,0.004,0.005,0.006,0.007,0.008,0.009,0.01,0.02,0.03,0.04,0.05,0.06,0.07,0.08,0.09,0.1],"tickSize":{"condition":{"test":"abs(log(datum.value)/LN10-round(log(datum.value)/LN10))<0.001","value":8},"value":4}}}}},
 {"data":{"name":"pts"},"transform":[{"filter":"datum.p=='13' && datum.t=='L'"}],"mark":{"type":"point","shape":"circle","size":150,"strokeWidth":1.3,"color":"black","opacity":1,"filled":false},"encoding":{"x":{"field":"x","type":"quantitative","scale":{"type":"log","domain":[0.1,10]},"axis":{"orient":"bottom","title":null,"labels":false,"values":[0.1,0.2,0.3,0.4,0.5,0.6,0.7,0.8,0.9,1,2,3,4,5,6,7,8,9,10],"tickSize":{"condition":{"test":"abs(log(datum.value)/LN10-round(log(datum.value)/LN10))<0.001","value":8},"value":4}}},"y":{"field":"y","type":"quantitative","scale":{"type":"log","domain":[1e-6,0.1]},"axis":{"orient":"left","title":null,"labels":false,"values":[1e-6,2e-6,3e-6,4e-6,5e-6,6e-6,7e-6,8e-6,9e-6,1e-5,2e-5,3e-5,4e-5,5e-5,6e-5,7e-5,8e-5,9e-5,1e-4,2e-4,3e-4,4e-4,5e-4,6e-4,7e-4,8e-4,9e-4,0.001,0.002,0.003,0.004,0.005,0.006,0.007,0.008,0.009,0.01,0.02,0.03,0.04,0.05,0.06,0.07,0.08,0.09,0.1],"tickSize":{"condition":{"test":"abs(log(datum.value)/LN10-round(log(datum.value)/LN10))<0.001","value":8},"value":4}}}}}
]},
{"width":289,"height":231,"resolve":{"axis":{"x":"independent","y":"independent"}},"layer":[
 {"data":{"name":"lns"},"transform":[{"filter":"datum.p=='21'"}],"mark":{"type":"line","color":"black","strokeWidth":1.3},"encoding":{"x":{"field":"x","type":"quantitative","scale":{"type":"log","domain":[0.01,100]},"axis":null},"y":{"field":"y","type":"quantitative","scale":{"type":"log","domain":[1e-6,0.1]},"axis":null},"detail":{"field":"s"}}},
 {"data":{"name":"pts"},"transform":[{"filter":"datum.p=='21' && datum.t=='D'"}],"mark":{"type":"circle","size":150,"color":"black","opacity":1},"encoding":{"x":{"field":"x","type":"quantitative","scale":{"type":"log","domain":[0.01,100]},"axis":{"orient":"top","title":null,"labels":false,"values":[0.01,0.02,0.03,0.04,0.05,0.06,0.07,0.08,0.09,0.1,0.2,0.3,0.4,0.5,0.6,0.7,0.8,0.9,1,2,3,4,5,6,7,8,9,10,20,30,40,50,60,70,80,90,100],"tickSize":{"condition":{"test":"abs(log(datum.value)/LN10-round(log(datum.value)/LN10))<0.001","value":8},"value":4}}},"y":{"field":"y","type":"quantitative","scale":{"type":"log","domain":[1e-6,0.1]},"axis":{"orient":"right","title":null,"labels":false,"values":[1e-6,2e-6,3e-6,4e-6,5e-6,6e-6,7e-6,8e-6,9e-6,1e-5,2e-5,3e-5,4e-5,5e-5,6e-5,7e-5,8e-5,9e-5,1e-4,2e-4,3e-4,4e-4,5e-4,6e-4,7e-4,8e-4,9e-4,0.001,0.002,0.003,0.004,0.005,0.006,0.007,0.008,0.009,0.01,0.02,0.03,0.04,0.05,0.06,0.07,0.08,0.09,0.1],"tickSize":{"condition":{"test":"abs(log(datum.value)/LN10-round(log(datum.value)/LN10))<0.001","value":8},"value":4}}}}},
 {"data":{"name":"pts"},"transform":[{"filter":"datum.p=='21' && datum.t=='L'"}],"mark":{"type":"point","shape":"circle","size":150,"strokeWidth":1.3,"color":"black","opacity":1,"filled":false},"encoding":{"x":{"field":"x","type":"quantitative","scale":{"type":"log","domain":[0.01,100]},"axis":{"orient":"bottom","title":null,"labels":false,"values":[0.01,0.02,0.03,0.04,0.05,0.06,0.07,0.08,0.09,0.1,0.2,0.3,0.4,0.5,0.6,0.7,0.8,0.9,1,2,3,4,5,6,7,8,9,10,20,30,40,50,60,70,80,90,100],"tickSize":{"condition":{"test":"abs(log(datum.value)/LN10-round(log(datum.value)/LN10))<0.001","value":8},"value":4}}},"y":{"field":"y","type":"quantitative","scale":{"type":"log","domain":[1e-6,0.1]},"axis":{"orient":"left","title":"⚬\u2003Light ¹⁴C\u2003•\u2003\u2009Dark ¹⁴C","titleFont":"Liberation Serif","titleFontWeight":"bold","titleFontSize":31,"titlePadding":25,"values":[1e-6,2e-6,3e-6,4e-6,5e-6,6e-6,7e-6,8e-6,9e-6,1e-5,2e-5,3e-5,4e-5,5e-5,6e-5,7e-5,8e-5,9e-5,1e-4,2e-4,3e-4,4e-4,5e-4,6e-4,7e-4,8e-4,9e-4,0.001,0.002,0.003,0.004,0.005,0.006,0.007,0.008,0.009,0.01,0.02,0.03,0.04,0.05,0.06,0.07,0.08,0.09,0.1],"labelExpr":"abs(log(datum.value)/LN10-round(log(datum.value)/LN10))<0.001 ? ['10⁻⁶','10⁻⁵','10⁻⁴','10⁻³','10⁻²','10⁻¹','10⁰','10¹','10²','10³','10⁴'][round(log(datum.value)/LN10)+6] : ''","tickSize":{"condition":{"test":"abs(log(datum.value)/LN10-round(log(datum.value)/LN10))<0.001","value":8},"value":4},"labelPadding":14,"labelOverlap":false,"labelBound":false,"labelFlush":false}}}},
 {"data":{"values":[{}]},"mark":{"type":"text","text":"Z(P","font":"Liberation Serif","fontStyle":"italic","fontWeight":"bold","fontSize":29,"align":"left","baseline":"alphabetic","color":"black"},"encoding":{"x":{"datum":0.0117,"type":"quantitative","axis":null},"y":{"datum":0.026,"type":"quantitative","axis":null}}},
 {"data":{"values":[{}]},"mark":{"type":"text","text":"max","font":"Liberation Serif","fontStyle":"italic","fontWeight":"bold","fontSize":20,"align":"left","baseline":"alphabetic","color":"black"},"encoding":{"x":{"datum":0.0574,"type":"quantitative","axis":null},"y":{"datum":0.0136,"type":"quantitative","axis":null}}},
 {"data":{"values":[{}]},"mark":{"type":"text","text":")","font":"Liberation Serif","fontStyle":"italic","fontWeight":"bold","fontSize":29,"align":"left","baseline":"alphabetic","color":"black"},"encoding":{"x":{"datum":0.192,"type":"quantitative","axis":null},"y":{"datum":0.026,"type":"quantitative","axis":null}}}
]},
{"width":289,"height":231,"resolve":{"axis":{"x":"independent","y":"independent"}},"layer":[
 {"data":{"name":"lns"},"transform":[{"filter":"datum.p=='22'"}],"mark":{"type":"line","color":"black","strokeWidth":1.3},"encoding":{"x":{"field":"x","type":"quantitative","scale":{"type":"log","domain":[1,10000]},"axis":null},"y":{"field":"y","type":"quantitative","scale":{"type":"log","domain":[1e-6,0.1]},"axis":null},"detail":{"field":"s"}}},
 {"data":{"name":"pts"},"transform":[{"filter":"datum.p=='22' && datum.t=='D'"}],"mark":{"type":"circle","size":150,"color":"black","opacity":1},"encoding":{"x":{"field":"x","type":"quantitative","scale":{"type":"log","domain":[1,10000]},"axis":{"orient":"top","title":null,"labels":false,"values":[1,2,3,4,5,6,7,8,9,10,20,30,40,50,60,70,80,90,100,200,300,400,500,600,700,800,900,1000,2000,3000,4000,5000,6000,7000,8000,9000,10000],"tickSize":{"condition":{"test":"abs(log(datum.value)/LN10-round(log(datum.value)/LN10))<0.001","value":8},"value":4}}},"y":{"field":"y","type":"quantitative","scale":{"type":"log","domain":[1e-6,0.1]},"axis":{"orient":"right","title":null,"labels":false,"values":[1e-6,2e-6,3e-6,4e-6,5e-6,6e-6,7e-6,8e-6,9e-6,1e-5,2e-5,3e-5,4e-5,5e-5,6e-5,7e-5,8e-5,9e-5,1e-4,2e-4,3e-4,4e-4,5e-4,6e-4,7e-4,8e-4,9e-4,0.001,0.002,0.003,0.004,0.005,0.006,0.007,0.008,0.009,0.01,0.02,0.03,0.04,0.05,0.06,0.07,0.08,0.09,0.1],"tickSize":{"condition":{"test":"abs(log(datum.value)/LN10-round(log(datum.value)/LN10))<0.001","value":8},"value":4}}}}},
 {"data":{"name":"pts"},"transform":[{"filter":"datum.p=='22' && datum.t=='L'"}],"mark":{"type":"point","shape":"circle","size":150,"strokeWidth":1.3,"color":"black","opacity":1,"filled":false},"encoding":{"x":{"field":"x","type":"quantitative","scale":{"type":"log","domain":[1,10000]},"axis":{"orient":"bottom","title":null,"labels":false,"values":[1,2,3,4,5,6,7,8,9,10,20,30,40,50,60,70,80,90,100,200,300,400,500,600,700,800,900,1000,2000,3000,4000,5000,6000,7000,8000,9000,10000],"tickSize":{"condition":{"test":"abs(log(datum.value)/LN10-round(log(datum.value)/LN10))<0.001","value":8},"value":4}}},"y":{"field":"y","type":"quantitative","scale":{"type":"log","domain":[1e-6,0.1]},"axis":{"orient":"left","title":null,"labels":false,"values":[1e-6,2e-6,3e-6,4e-6,5e-6,6e-6,7e-6,8e-6,9e-6,1e-5,2e-5,3e-5,4e-5,5e-5,6e-5,7e-5,8e-5,9e-5,1e-4,2e-4,3e-4,4e-4,5e-4,6e-4,7e-4,8e-4,9e-4,0.001,0.002,0.003,0.004,0.005,0.006,0.007,0.008,0.009,0.01,0.02,0.03,0.04,0.05,0.06,0.07,0.08,0.09,0.1],"tickSize":{"condition":{"test":"abs(log(datum.value)/LN10-round(log(datum.value)/LN10))<0.001","value":8},"value":4}}}}}
]},
{"width":289,"height":231,"resolve":{"axis":{"x":"independent","y":"independent"}},"layer":[
 {"data":{"name":"lns"},"transform":[{"filter":"datum.p=='23' && datum.s=='L'"}],"mark":{"type":"line","color":"black","strokeWidth":1.3},"encoding":{"x":{"field":"x","type":"quantitative","scale":{"type":"log","domain":[0.1,10]},"axis":null},"y":{"field":"y","type":"quantitative","scale":{"type":"log","domain":[1e-6,0.1]},"axis":null}}},
 {"data":{"name":"lns"},"transform":[{"filter":"datum.p=='23' && datum.s=='D'"}],"mark":{"type":"line","color":"black","strokeWidth":1.3,"strokeDash":[8,5]},"encoding":{"x":{"field":"x","type":"quantitative","scale":{"type":"log","domain":[0.1,10]},"axis":null},"y":{"field":"y","type":"quantitative","scale":{"type":"log","domain":[1e-6,0.1]},"axis":null}}},
 {"data":{"name":"pts"},"transform":[{"filter":"datum.p=='23' && datum.t=='D'"}],"mark":{"type":"circle","size":150,"color":"black","opacity":1},"encoding":{"x":{"field":"x","type":"quantitative","scale":{"type":"log","domain":[0.1,10]},"axis":{"orient":"top","title":null,"labels":false,"values":[0.1,0.2,0.3,0.4,0.5,0.6,0.7,0.8,0.9,1,2,3,4,5,6,7,8,9,10],"tickSize":{"condition":{"test":"abs(log(datum.value)/LN10-round(log(datum.value)/LN10))<0.001","value":8},"value":4}}},"y":{"field":"y","type":"quantitative","scale":{"type":"log","domain":[1e-6,0.1]},"axis":{"orient":"right","title":null,"labels":false,"values":[1e-6,2e-6,3e-6,4e-6,5e-6,6e-6,7e-6,8e-6,9e-6,1e-5,2e-5,3e-5,4e-5,5e-5,6e-5,7e-5,8e-5,9e-5,1e-4,2e-4,3e-4,4e-4,5e-4,6e-4,7e-4,8e-4,9e-4,0.001,0.002,0.003,0.004,0.005,0.006,0.007,0.008,0.009,0.01,0.02,0.03,0.04,0.05,0.06,0.07,0.08,0.09,0.1],"tickSize":{"condition":{"test":"abs(log(datum.value)/LN10-round(log(datum.value)/LN10))<0.001","value":8},"value":4}}}}},
 {"data":{"name":"pts"},"transform":[{"filter":"datum.p=='23' && datum.t=='L'"}],"mark":{"type":"point","shape":"circle","size":150,"strokeWidth":1.3,"color":"black","opacity":1,"filled":false},"encoding":{"x":{"field":"x","type":"quantitative","scale":{"type":"log","domain":[0.1,10]},"axis":{"orient":"bottom","title":null,"labels":false,"values":[0.1,0.2,0.3,0.4,0.5,0.6,0.7,0.8,0.9,1,2,3,4,5,6,7,8,9,10],"tickSize":{"condition":{"test":"abs(log(datum.value)/LN10-round(log(datum.value)/LN10))<0.001","value":8},"value":4}}},"y":{"field":"y","type":"quantitative","scale":{"type":"log","domain":[1e-6,0.1]},"axis":{"orient":"left","title":null,"labels":false,"values":[1e-6,2e-6,3e-6,4e-6,5e-6,6e-6,7e-6,8e-6,9e-6,1e-5,2e-5,3e-5,4e-5,5e-5,6e-5,7e-5,8e-5,9e-5,1e-4,2e-4,3e-4,4e-4,5e-4,6e-4,7e-4,8e-4,9e-4,0.001,0.002,0.003,0.004,0.005,0.006,0.007,0.008,0.009,0.01,0.02,0.03,0.04,0.05,0.06,0.07,0.08,0.09,0.1],"tickSize":{"condition":{"test":"abs(log(datum.value)/LN10-round(log(datum.value)/LN10))<0.001","value":8},"value":4}}}}}
]},
{"width":289,"height":231,"resolve":{"axis":{"x":"independent","y":"independent"}},"layer":[
 {"data":{"name":"lns"},"transform":[{"filter":"datum.p=='31'"}],"mark":{"type":"line","color":"black","strokeWidth":1.3},"encoding":{"x":{"field":"x","type":"quantitative","scale":{"type":"log","domain":[0.01,100]},"axis":null},"y":{"field":"y","type":"quantitative","scale":{"type":"log","domain":[1e-6,0.1]},"axis":null},"detail":{"field":"s"}}},
 {"data":{"name":"pts"},"transform":[{"filter":"datum.p=='31' && datum.t=='D'"}],"mark":{"type":"circle","size":150,"color":"black","opacity":1},"encoding":{"x":{"field":"x","type":"quantitative","scale":{"type":"log","domain":[0.01,100]},"axis":{"orient":"top","title":null,"labels":false,"values":[0.01,0.02,0.03,0.04,0.05,0.06,0.07,0.08,0.09,0.1,0.2,0.3,0.4,0.5,0.6,0.7,0.8,0.9,1,2,3,4,5,6,7,8,9,10,20,30,40,50,60,70,80,90,100],"tickSize":{"condition":{"test":"abs(log(datum.value)/LN10-round(log(datum.value)/LN10))<0.001","value":8},"value":4}}},"y":{"field":"y","type":"quantitative","scale":{"type":"log","domain":[1e-6,0.1]},"axis":{"orient":"right","title":null,"labels":false,"values":[1e-6,2e-6,3e-6,4e-6,5e-6,6e-6,7e-6,8e-6,9e-6,1e-5,2e-5,3e-5,4e-5,5e-5,6e-5,7e-5,8e-5,9e-5,1e-4,2e-4,3e-4,4e-4,5e-4,6e-4,7e-4,8e-4,9e-4,0.001,0.002,0.003,0.004,0.005,0.006,0.007,0.008,0.009,0.01,0.02,0.03,0.04,0.05,0.06,0.07,0.08,0.09,0.1],"tickSize":{"condition":{"test":"abs(log(datum.value)/LN10-round(log(datum.value)/LN10))<0.001","value":8},"value":4}}}}},
 {"data":{"name":"pts"},"transform":[{"filter":"datum.p=='31' && datum.t=='L'"}],"mark":{"type":"point","shape":"circle","size":150,"strokeWidth":1.3,"color":"black","opacity":1,"filled":false},"encoding":{"x":{"field":"x","type":"quantitative","scale":{"type":"log","domain":[0.01,100]},"axis":{"orient":"bottom","title":null,"values":[0.01,0.02,0.03,0.04,0.05,0.06,0.07,0.08,0.09,0.1,0.2,0.3,0.4,0.5,0.6,0.7,0.8,0.9,1,2,3,4,5,6,7,8,9,10,20,30,40,50,60,70,80,90,100],"labelExpr":"abs(log(datum.value)/LN10-round(log(datum.value)/LN10))<0.001 ? ['10⁻⁶','10⁻⁵','10⁻⁴','10⁻³','10⁻²','10⁻¹','10⁰','10¹','10²','10³','10⁴'][round(log(datum.value)/LN10)+6] : ''","tickSize":{"condition":{"test":"abs(log(datum.value)/LN10-round(log(datum.value)/LN10))<0.001","value":8},"value":4},"labelPadding":8,"labelOverlap":false,"labelBound":false,"labelFlush":false}},"y":{"field":"y","type":"quantitative","scale":{"type":"log","domain":[1e-6,0.1]},"axis":{"orient":"left","title":null,"values":[1e-6,2e-6,3e-6,4e-6,5e-6,6e-6,7e-6,8e-6,9e-6,1e-5,2e-5,3e-5,4e-5,5e-5,6e-5,7e-5,8e-5,9e-5,1e-4,2e-4,3e-4,4e-4,5e-4,6e-4,7e-4,8e-4,9e-4,0.001,0.002,0.003,0.004,0.005,0.006,0.007,0.008,0.009,0.01,0.02,0.03,0.04,0.05,0.06,0.07,0.08,0.09,0.1],"labelExpr":"abs(log(datum.value)/LN10-round(log(datum.value)/LN10))<0.001 ? ['10⁻⁶','10⁻⁵','10⁻⁴','10⁻³','10⁻²','10⁻¹','10⁰','10¹','10²','10³','10⁴'][round(log(datum.value)/LN10)+6] : ''","tickSize":{"condition":{"test":"abs(log(datum.value)/LN10-round(log(datum.value)/LN10))<0.001","value":8},"value":4},"labelPadding":14,"labelOverlap":false,"labelBound":false,"labelFlush":false}}}},
 {"data":{"values":[{}]},"mark":{"type":"text","text":"Z(Chl","font":"Liberation Serif","fontStyle":"italic","fontWeight":"bold","fontSize":29,"align":"left","baseline":"alphabetic","color":"black"},"encoding":{"x":{"datum":0.0133,"type":"quantitative","axis":null},"y":{"datum":0.013,"type":"quantitative","axis":null}}},
 {"data":{"values":[{}]},"mark":{"type":"text","text":"max","font":"Liberation Serif","fontStyle":"italic","fontWeight":"bold","fontSize":20,"align":"left","baseline":"alphabetic","color":"black"},"encoding":{"x":{"datum":0.1396,"type":"quantitative","axis":null},"y":{"datum":0.00583,"type":"quantitative","axis":null}}},
 {"data":{"values":[{}]},"mark":{"type":"text","text":")","font":"Liberation Serif","fontStyle":"italic","fontWeight":"bold","fontSize":29,"align":"left","baseline":"alphabetic","color":"black"},"encoding":{"x":{"datum":0.467,"type":"quantitative","axis":null},"y":{"datum":0.013,"type":"quantitative","axis":null}}}
]},
{"width":289,"height":231,"resolve":{"axis":{"x":"independent","y":"independent"}},"layer":[
 {"data":{"name":"lns"},"transform":[{"filter":"datum.p=='32'"}],"mark":{"type":"line","color":"black","strokeWidth":1.3},"encoding":{"x":{"field":"x","type":"quantitative","scale":{"type":"log","domain":[1,10000]},"axis":null},"y":{"field":"y","type":"quantitative","scale":{"type":"log","domain":[1e-6,0.1]},"axis":null},"detail":{"field":"s"}}},
 {"data":{"name":"pts"},"transform":[{"filter":"datum.p=='32' && datum.t=='D'"}],"mark":{"type":"circle","size":150,"color":"black","opacity":1},"encoding":{"x":{"field":"x","type":"quantitative","scale":{"type":"log","domain":[1,10000]},"axis":{"orient":"top","title":null,"labels":false,"values":[1,2,3,4,5,6,7,8,9,10,20,30,40,50,60,70,80,90,100,200,300,400,500,600,700,800,900,1000,2000,3000,4000,5000,6000,7000,8000,9000,10000],"tickSize":{"condition":{"test":"abs(log(datum.value)/LN10-round(log(datum.value)/LN10))<0.001","value":8},"value":4}}},"y":{"field":"y","type":"quantitative","scale":{"type":"log","domain":[1e-6,0.1]},"axis":{"orient":"right","title":null,"labels":false,"values":[1e-6,2e-6,3e-6,4e-6,5e-6,6e-6,7e-6,8e-6,9e-6,1e-5,2e-5,3e-5,4e-5,5e-5,6e-5,7e-5,8e-5,9e-5,1e-4,2e-4,3e-4,4e-4,5e-4,6e-4,7e-4,8e-4,9e-4,0.001,0.002,0.003,0.004,0.005,0.006,0.007,0.008,0.009,0.01,0.02,0.03,0.04,0.05,0.06,0.07,0.08,0.09,0.1],"tickSize":{"condition":{"test":"abs(log(datum.value)/LN10-round(log(datum.value)/LN10))<0.001","value":8},"value":4}}}}},
 {"data":{"name":"pts"},"transform":[{"filter":"datum.p=='32' && datum.t=='L'"}],"mark":{"type":"point","shape":"circle","size":150,"strokeWidth":1.3,"color":"black","opacity":1,"filled":false},"encoding":{"x":{"field":"x","type":"quantitative","scale":{"type":"log","domain":[1,10000]},"axis":{"orient":"bottom","title":null,"values":[1,2,3,4,5,6,7,8,9,10,20,30,40,50,60,70,80,90,100,200,300,400,500,600,700,800,900,1000,2000,3000,4000,5000,6000,7000,8000,9000,10000],"labelExpr":"abs(log(datum.value)/LN10-round(log(datum.value)/LN10))<0.001 ? ['10⁻⁶','10⁻⁵','10⁻⁴','10⁻³','10⁻²','10⁻¹','10⁰','10¹','10²','10³','10⁴'][round(log(datum.value)/LN10)+6] : ''","tickSize":{"condition":{"test":"abs(log(datum.value)/LN10-round(log(datum.value)/LN10))<0.001","value":8},"value":4},"labelPadding":8,"labelOverlap":false,"labelBound":false,"labelFlush":false}},"y":{"field":"y","type":"quantitative","scale":{"type":"log","domain":[1e-6,0.1]},"axis":{"orient":"left","title":null,"labels":false,"values":[1e-6,2e-6,3e-6,4e-6,5e-6,6e-6,7e-6,8e-6,9e-6,1e-5,2e-5,3e-5,4e-5,5e-5,6e-5,7e-5,8e-5,9e-5,1e-4,2e-4,3e-4,4e-4,5e-4,6e-4,7e-4,8e-4,9e-4,0.001,0.002,0.003,0.004,0.005,0.006,0.007,0.008,0.009,0.01,0.02,0.03,0.04,0.05,0.06,0.07,0.08,0.09,0.1],"tickSize":{"condition":{"test":"abs(log(datum.value)/LN10-round(log(datum.value)/LN10))<0.001","value":8},"value":4}}}}}
]},
{"width":289,"height":231,"resolve":{"axis":{"x":"independent","y":"independent"}},"layer":[
 {"data":{"name":"lns"},"transform":[{"filter":"datum.p=='33' && datum.s=='L'"}],"mark":{"type":"line","color":"black","strokeWidth":1.3},"encoding":{"x":{"field":"x","type":"quantitative","scale":{"type":"log","domain":[0.1,10]},"axis":null},"y":{"field":"y","type":"quantitative","scale":{"type":"log","domain":[1e-6,0.1]},"axis":null}}},
 {"data":{"name":"lns"},"transform":[{"filter":"datum.p=='33' && datum.s=='D'"}],"mark":{"type":"line","color":"black","strokeWidth":1.3,"strokeDash":[8,5]},"encoding":{"x":{"field":"x","type":"quantitative","scale":{"type":"log","domain":[0.1,10]},"axis":null},"y":{"field":"y","type":"quantitative","scale":{"type":"log","domain":[1e-6,0.1]},"axis":null}}},
 {"data":{"name":"pts"},"transform":[{"filter":"datum.p=='33' && datum.t=='D'"}],"mark":{"type":"circle","size":150,"color":"black","opacity":1},"encoding":{"x":{"field":"x","type":"quantitative","scale":{"type":"log","domain":[0.1,10]},"axis":{"orient":"top","title":null,"labels":false,"values":[0.1,0.2,0.3,0.4,0.5,0.6,0.7,0.8,0.9,1,2,3,4,5,6,7,8,9,10],"tickSize":{"condition":{"test":"abs(log(datum.value)/LN10-round(log(datum.value)/LN10))<0.001","value":8},"value":4}}},"y":{"field":"y","type":"quantitative","scale":{"type":"log","domain":[1e-6,0.1]},"axis":{"orient":"right","title":null,"labels":false,"values":[1e-6,2e-6,3e-6,4e-6,5e-6,6e-6,7e-6,8e-6,9e-6,1e-5,2e-5,3e-5,4e-5,5e-5,6e-5,7e-5,8e-5,9e-5,1e-4,2e-4,3e-4,4e-4,5e-4,6e-4,7e-4,8e-4,9e-4,0.001,0.002,0.003,0.004,0.005,0.006,0.007,0.008,0.009,0.01,0.02,0.03,0.04,0.05,0.06,0.07,0.08,0.09,0.1],"tickSize":{"condition":{"test":"abs(log(datum.value)/LN10-round(log(datum.value)/LN10))<0.001","value":8},"value":4}}}}},
 {"data":{"name":"pts"},"transform":[{"filter":"datum.p=='33' && datum.t=='L'"}],"mark":{"type":"point","shape":"circle","size":150,"strokeWidth":1.3,"color":"black","opacity":1,"filled":false},"encoding":{"x":{"field":"x","type":"quantitative","scale":{"type":"log","domain":[0.1,10]},"axis":{"orient":"bottom","title":null,"values":[0.1,0.2,0.3,0.4,0.5,0.6,0.7,0.8,0.9,1,2,3,4,5,6,7,8,9,10],"labelExpr":"abs(log(datum.value)/LN10-round(log(datum.value)/LN10))<0.001 ? ['10⁻⁶','10⁻⁵','10⁻⁴','10⁻³','10⁻²','10⁻¹','10⁰','10¹','10²','10³','10⁴'][round(log(datum.value)/LN10)+6] : ''","tickSize":{"condition":{"test":"abs(log(datum.value)/LN10-round(log(datum.value)/LN10))<0.001","value":8},"value":4},"labelPadding":8,"labelOverlap":false,"labelBound":false,"labelFlush":false}},"y":{"field":"y","type":"quantitative","scale":{"type":"log","domain":[1e-6,0.1]},"axis":{"orient":"left","title":null,"labels":false,"values":[1e-6,2e-6,3e-6,4e-6,5e-6,6e-6,7e-6,8e-6,9e-6,1e-5,2e-5,3e-5,4e-5,5e-5,6e-5,7e-5,8e-5,9e-5,1e-4,2e-4,3e-4,4e-4,5e-4,6e-4,7e-4,8e-4,9e-4,0.001,0.002,0.003,0.004,0.005,0.006,0.007,0.008,0.009,0.01,0.02,0.03,0.04,0.05,0.06,0.07,0.08,0.09,0.1],"tickSize":{"condition":{"test":"abs(log(datum.value)/LN10-round(log(datum.value)/LN10))<0.001","value":8},"value":4}}}}}
]}
],
"config":{
 "view":{"stroke":"black","strokeWidth":1.2},
 "axis":{"domainColor":"black","domainWidth":1.2,"tickColor":"black","tickWidth":1,"labelColor":"black","labelFont":"Liberation Sans","labelFontSize":18,"grid":false,"titleColor":"black"}
}
}
